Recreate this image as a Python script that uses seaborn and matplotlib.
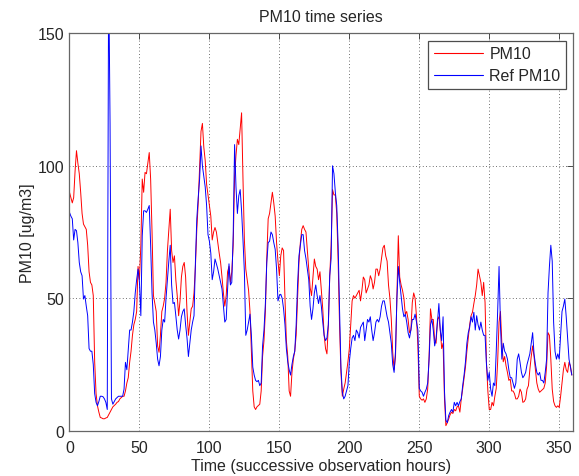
import pandas as pd
import seaborn as sns
import matplotlib.pyplot as plt

# hourly PM10 values (model) and reference PM10 values
hours = list(range(360))

pm10 = [
    90, 88, 86, 88, 98, 105.7, 101, 97, 90, 82,
    78, 77, 76, 70, 60, 56, 55, 51, 26, 14,
    9.4, 7, 5, 4.8, 4.5, 4.5, 4.8, 5, 6, 7,
    8, 9, 9.5, 10, 10.7, 11, 12, 12.5, 13, 13,
    15, 18, 20, 25.8, 30, 36, 40, 42, 45, 62,
    57, 70, 95, 90, 97.5, 97, 101, 105, 95, 75,
    51, 48, 45, 32, 29.6, 36, 45, 47, 50, 56,
    68, 76, 83.6, 68, 63.5, 66, 57, 51, 43.4, 49,
    58, 62, 63.5, 58, 45, 36, 41, 46, 47, 52,
    62, 76, 86, 100, 113, 116, 107, 102, 93, 89,
    85, 81, 72, 75, 76.7, 75, 71, 67, 63.5, 58,
    52, 47, 51, 60, 62, 56, 60, 70, 96, 104,
    110, 108, 114, 120, 95, 72, 61, 57, 53, 45,
    30, 15, 9, 8, 9, 9.5, 10, 15, 28, 34,
    45, 65, 80, 82, 86, 90, 86, 81, 71, 64,
    58.5, 66, 69, 68, 50, 34, 28, 15, 13, 22,
    27, 30, 36, 50, 63.5, 71, 76, 77.4, 76, 75,
    68, 61, 54, 51, 58, 64.8, 62, 61, 57, 60,
    53, 46, 36, 31, 29, 40, 58.5, 70, 91, 89,
    89, 82, 64, 40, 22, 13, 15.7, 18, 22, 26,
    31, 40, 49, 51, 50, 51, 52, 53, 49, 53,
    58, 57, 52, 53.5, 55, 58.5, 57, 53.5, 56, 61,
    61, 58.5, 61, 65, 69, 70, 66, 64, 55, 50,
    42, 29.6, 23, 28, 50, 73.6, 58, 55, 53, 50,
    44, 45, 42, 37, 38, 48.4, 52, 50, 43, 32,
    13, 12, 11.5, 12, 10.7, 12, 15.7, 28, 46, 42,
    42, 34, 33, 42, 43, 38, 31, 33, 12, 1.9,
    3, 4.4, 6, 7, 6.5, 8, 7.5, 9, 9.4, 7,
    12, 15.7, 20, 24, 30, 35, 40, 43.4, 44.7, 48,
    51, 55, 61, 58.5, 56, 51, 56, 48.4, 25.8, 15,
    8, 8, 10.7, 9.4, 13, 16, 26, 41, 45, 33,
    26, 28, 24.5, 22, 19, 19.5, 15, 15, 14, 12,
    12, 13, 15.7, 14.5, 10.7, 11, 12, 15.7, 17, 23,
    28, 32, 28, 23, 18, 15.7, 14.5, 15, 15.5, 16,
    18, 24.5, 37, 36, 27, 15.7, 11, 9.4, 8.8, 9.4,
    8.8, 13, 18, 23, 25.8, 23, 22, 25.8, 24.5, 21,
]

ref_pm10 = [
    82.4, 81, 80, 72, 76, 75.5, 71, 63.5, 60, 58.5,
    49.7, 51, 47, 43.4, 31, 30, 30, 25, 14, 10.7,
    9.4, 11, 13, 13, 12.8, 12, 10.7, 8, 175, 116,
    12, 10, 11, 12, 12.5, 13, 13, 13, 13, 15.7,
    25.8, 23, 30.8, 38, 38, 41, 45, 52, 57, 61,
    56, 43.4, 73.6, 83, 83, 82.4, 83.6, 85, 70, 52,
    41, 38, 33, 27, 24.5, 28, 38, 42, 41, 50,
    57, 64, 70, 55, 48, 48.4, 43.4, 38, 34.6, 38,
    43, 45, 46, 40, 35, 28, 33, 38, 41, 43.4,
    63.5, 80, 88, 95, 107.5, 100, 96, 92, 85, 74,
    71.5, 67, 57, 60, 64.8, 63, 61, 58.5, 56, 53.5,
    47, 41, 42, 53.5, 63, 55, 56, 74, 108, 92,
    82, 88.7, 91, 83, 72, 60, 36, 38, 41, 44,
    36, 24, 21, 19, 18.5, 19, 17, 18, 32, 38,
    48, 63.5, 71, 71.5, 75, 74, 71, 68.5, 61, 49,
    51, 51.5, 50, 46, 40, 31, 26, 23, 21, 25,
    28, 30, 40, 55, 66, 70, 74, 74, 68, 65,
    61, 57, 47, 42, 46, 52, 55, 51, 48, 51,
    47, 41, 36, 34, 35, 40, 58.5, 65, 100, 97,
    90, 85, 70, 46, 24, 14.5, 12, 13, 15, 17,
    26, 31, 35, 36, 34, 38, 37, 35, 39, 40,
    41, 34, 38, 42, 41, 43, 38, 34, 37, 41,
    42, 41, 43, 47, 49, 49, 46, 43, 41, 37,
    33, 25, 22, 30, 50, 62, 56, 51, 46, 43,
    44, 41, 37, 35, 38, 42, 42, 44, 41, 38,
    16, 15, 14.5, 13, 14.5, 15.7, 18, 27, 40, 42,
    38, 32, 35, 41, 48, 38, 34, 43, 15, 4,
    3, 5.7, 7, 8, 7, 10.7, 9.4, 10.7, 9.4, 11,
    12, 17, 21, 26, 33, 37, 39, 43, 41, 44.7,
    38, 43.4, 40, 38, 41, 38, 36, 36, 25, 19,
    22, 15.7, 13, 18, 17, 30, 45, 62, 40, 27,
    33, 30, 29, 27, 23, 20, 20, 18, 16, 18,
    27, 29, 25.8, 22, 20, 20.8, 22, 25, 27, 29,
    33, 37, 29, 25, 22, 21, 22, 19, 19, 18,
    22, 27, 52, 62, 70, 64, 41, 30, 27, 29,
    27, 36, 45, 47, 49.7, 43, 35, 27, 24, 21,
]

series_names = ['PM10', 'Ref PM10']
x_ticks = [0, 50, 100, 150, 200, 250, 300, 350]
y_ticks = [0, 50, 100, 150]

df = pd.DataFrame({
    'hour': hours + hours,
    'value': pm10 + ref_pm10,
    'series': [series_names[0]] * len(pm10) + [series_names[1]] * len(ref_pm10),
})

sns.set_style('white')
plt.rcParams['font.family'] = ['Liberation Sans', 'DejaVu Sans']
fs = 11.5

fig = plt.figure(figsize=(5.79, 4.77), dpi=100)
ax = fig.add_axes([0.120, 0.095, 0.870, 0.833])

sns.lineplot(data=df, x='hour', y='value', hue='series', hue_order=series_names,
             palette=['#ff0000', '#0000ff'], estimator=None, sort=False,
             linewidth=0.7, ax=ax)

ax.set_xlim(0, 360)
ax.set_ylim(0, 150)
ax.set_xticks(x_ticks)
ax.set_yticks(y_ticks)
ax.grid(True, color='0.25', linestyle=(0, (1, 3)), linewidth=0.6)
ax.tick_params(direction='in', top=True, right=True, length=4, width=0.6,
               labelsize=fs, color='0.2')
ax.tick_params(axis='x', pad=7)
ax.tick_params(axis='y', pad=3.5)
for s in ax.spines.values():
    s.set_color('0.4')
    s.set_linewidth(0.9)

ax.set_title('PM10 time series', fontsize=fs, pad=9)
ax.set_xlabel('Time (successive observation hours)', fontsize=fs, labelpad=2)
ax.set_ylabel('PM10 [ug/m3]', fontsize=fs, labelpad=2)

handles, labels = ax.get_legend_handles_labels()
leg = ax.legend(handles, labels, loc='upper right', fontsize=fs, fancybox=False,
                edgecolor='0.3', framealpha=1, handlelength=3.05, handletextpad=0.42,
                borderaxespad=0.45, borderpad=0.35, labelspacing=0.45)
leg.get_frame().set_linewidth(0.9)
for line in leg.get_lines():
    line.set_linewidth(0.8)

plt.savefig('out.png', dpi=100)
